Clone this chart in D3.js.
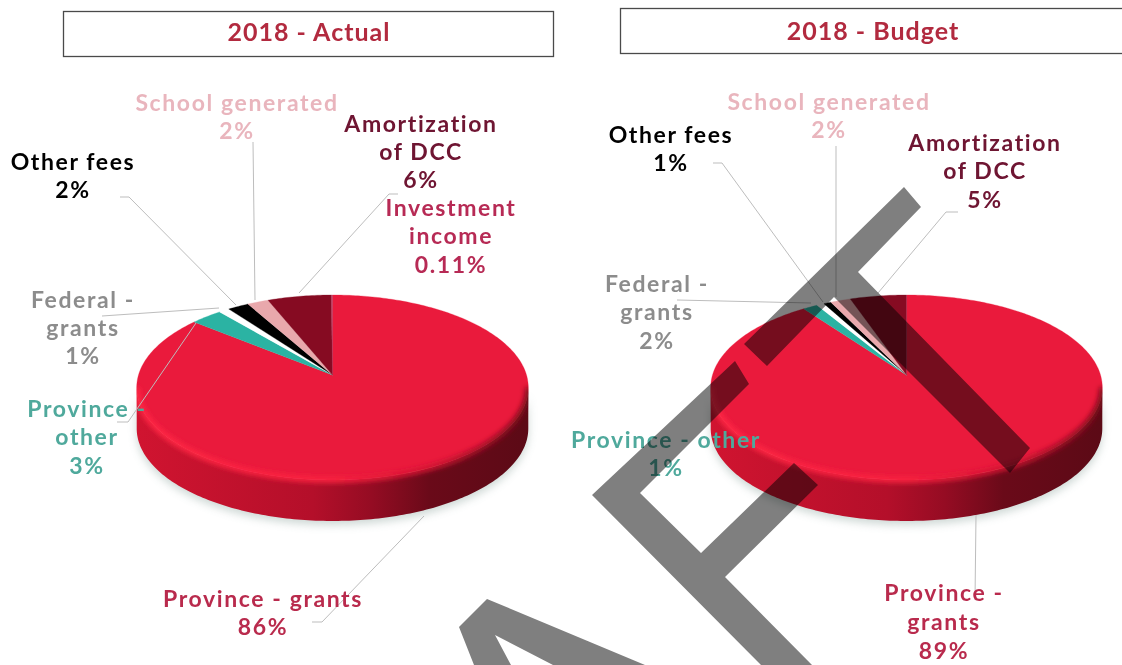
<!DOCTYPE html>
<html>
<head>
<meta charset="utf-8">
<script src="https://cdn.jsdelivr.net/npm/d3@7"></script>
<style>
  html, body { margin: 0; background: #fff; }
  svg { display: block; }
  text { font-family: Lato, sans-serif; font-weight: 700; font-size: 23px; letter-spacing: 1.6px; text-anchor: middle; }
  .title { font-size: 25px; letter-spacing: 1px; fill: #b22a3f; }
</style>
</head>
<body>
<svg id="chart" width="1122" height="665"></svg>
<script>
var categories = ["Province - grants", "Province - other", "Federal - grants", "Other fees", "School generated", "Amortization of DCC", "Investment income"];
var actualValues = [86, 3, 1, 2, 2, 6, 0.11];
var actualLabels = ["86%", "3%", "1%", "2%", "2%", "6%", "0.11%"];
// budget wedges, they are a little off the rounded labels
var budgetValues = [90, 1.4, 0.7, 0.7, 1.9, 5.3, 0];
var budgetLabels = ["89%", "1%", "2%", "1%", "2%", "5%", null];

var sliceColors = ["#ea1a3c", "#2bb3a3", "#ffffff", "#000000", "#e9a8ac", "#860b22", "#b72c55"];
var labelColors = ["#b92c4d", "#4fa99c", "#8c8c8c", "#000000", "#e9b5bd", "#6e1230", "#b72c55"];

// label text lines and leader lines, by category
var actualLayout = [
  { x: 263, y: [607, 635], lines: ["Province - grants"], leader: [[312, 622], [322, 622], [424, 516]] },
  { x: 87, y: [417, 445, 474], lines: ["Province -", "other"], leader: [[117, 422], [128, 422], [196, 323]] },
  { x: 83, y: [308, 336, 364], lines: ["Federal -", "grants"], leader: [[102, 316], [219, 308]] },
  { x: 73, y: [170, 198], lines: ["Other fees"], leader: [[120, 197], [129, 197], [236, 305]] },
  { x: 237, y: [111, 139], lines: ["School generated"], leader: [[253, 142], [255, 300]] },
  { x: 421, y: [132, 160, 188], lines: ["Amortization", "of DCC"], leader: [[398, 194], [389, 194], [299, 293]] },
  { x: 451, y: [216, 244, 273], lines: ["Investment", "income"], leader: null }
];
var budgetLayout = [
  { x: 944, y: [601, 630, 659], lines: ["Province -", "grants"], leader: [[976, 515], [975, 600]] },
  { x: 666, y: [448, 476], lines: ["Province - other"], leader: null },
  { x: 657, y: [292, 320, 349], lines: ["Federal -", "grants"], leader: [[677, 300], [811, 303]] },
  { x: 671, y: [143, 171], lines: ["Other fees"], leader: [[713, 163], [722, 163], [823, 302]] },
  { x: 829, y: [110, 138], lines: ["School generated"], leader: [[836, 146], [836, 297]] },
  { x: 985, y: [151, 179, 208], lines: ["Amortization", "of DCC"], leader: [[958, 212], [946, 212], [878, 293]] },
  null
];

// the grey stamp across the page
var stamp = [
  [[904, 187], [921, 207], [858, 272], [1030, 448], [1010, 473], [834, 297], [767, 366], [744, 344]],
  [[735, 361], [749, 384], [640, 493], [701, 553], [794, 463], [818, 485], [725, 577], [812, 665], [761, 665], [592, 495]],
  [[487, 599], [645, 665], [553, 665], [495, 635], [511, 665], [474, 665], [459, 627]]
];

var svg = d3.select("#chart");
var defs = svg.append("defs");

defs.append("filter").attr("id", "soft").append("feGaussianBlur").attr("stdDeviation", 0.45);
defs.append("filter").attr("id", "rimBlur")
  .attr("x", "-5%").attr("y", "-20%").attr("width", "110%").attr("height", "140%")
  .append("feGaussianBlur").attr("stdDeviation", 2.6);
defs.append("filter").attr("id", "shadowBlur")
  .attr("x", "-10%").attr("y", "-10%").attr("width", "120%").attr("height", "130%")
  .append("feGaussianBlur").attr("stdDeviation", 4);

var tilt = 0.135, radiusY = 90.8, radiusX = 194, depth = 41;
var sideStops = [[0, "#d01430"], [0.45, "#b40f2a"], [0.6, "#950c23"], [0.75, "#6a0a19"], [1, "#5c0a16"]];
var rimStops = [[0, "#ff2745"], [0.5, "#f9213f"], [0.75, "#d01532"], [1, "#7a0b1c"]];

function addGradient(id, x, stops) {
  var g = defs.append("linearGradient").attr("id", id)
    .attr("gradientUnits", "userSpaceOnUse")
    .attr("x1", x - radiusX).attr("x2", x + radiusX).attr("y1", 0).attr("y2", 0);
  stops.forEach(function(s) {
    g.append("stop").attr("offset", s[0]).attr("stop-color", s[1]);
  });
}

function drawPie(id, cx, cy, values, labels, layout) {
  var xScale = d3.scaleLinear().domain([-1, 1]).range([cx - radiusX, cx + radiusX]);
  var yScale = d3.scaleLinear().domain([-1, 1]).range([cy + radiusY, cy - radiusY]);
  var line = d3.line();

  // circle seen from a low angle, so the near half comes out larger
  var project = function(a) {
    var w = 1 + tilt * Math.cos(a);
    return [xScale(Math.sin(a) / w), yScale(Math.cos(a) / w)];
  };
  var arcPoints = function(a0, a1) {
    var n = Math.max(2, Math.ceil(Math.abs(a1 - a0) * 60));
    return d3.range(n + 1).map(function(i) { return project(a0 + (a1 - a0) * i / n); });
  };

  addGradient("side" + id, cx, sideStops);
  addGradient("rim" + id, cx, rimStops);

  var g = svg.append("g");
  var start = Math.acos(-tilt), end = 2 * Math.PI - start;
  var front = arcPoints(start, end);
  var wall = front.concat(front.slice().reverse().map(function(p) { return [p[0], p[1] + depth]; }));
  var face = arcPoints(0, 2 * Math.PI);

  var clip = defs.append("clipPath").attr("id", "body" + id);
  clip.append("path").attr("d", line(wall) + "Z");
  clip.append("path").attr("d", line(face) + "Z");

  g.append("path").attr("d", line(wall) + "Z")
    .attr("transform", "translate(0,4)")
    .attr("fill", "#93a8a2").attr("opacity", 0.45).attr("filter", "url(#shadowBlur)");
  g.append("path").attr("d", line(wall) + "Z").attr("fill", "url(#side" + id + ")");

  var slices = d3.pie().sort(null)(values);
  g.selectAll("path.slice").data(slices).enter().append("path")
    .attr("class", "slice")
    .attr("d", function(d) {
      return line(arcPoints(d.startAngle, d.endAngle).concat([[xScale(0), yScale(0)]])) + "Z";
    })
    .attr("fill", function(d, i) { return sliceColors[i]; })
    .attr("stroke", function(d, i) { return sliceColors[i]; })
    .attr("stroke-width", 0.3);

  // soft bevel along the near edge of the top face
  g.append("g").attr("clip-path", "url(#body" + id + ")")
    .append("path").attr("d", line(front))
    .attr("fill", "none").attr("stroke", "url(#rim" + id + ")").attr("stroke-width", 6)
    .attr("filter", "url(#rimBlur)");

  layout.forEach(function(l) {
    if (!l || !l.leader) return;
    g.append("path").attr("d", line(l.leader))
      .attr("fill", "none").attr("stroke", "#bdbdbd").attr("stroke-width", 1);
  });

  var texts = g.append("g").attr("filter", "url(#soft)");
  layout.forEach(function(l, i) {
    if (!l) return;
    l.lines.concat(labels[i]).forEach(function(t, j) {
      texts.append("text").attr("x", l.x).attr("y", l.y[j])
        .attr("fill", labelColors[i]).text(t);
    });
  });
}

// title boxes
svg.append("rect").attr("x", 63.5).attr("y", 11.5).attr("width", 490).attr("height", 45)
  .attr("fill", "#fff").attr("stroke", "#4a4a4a").attr("stroke-width", 1.3);
svg.append("rect").attr("x", 620.5).attr("y", 8.5).attr("width", 540).attr("height", 45)
  .attr("fill", "#fff").attr("stroke", "#4a4a4a").attr("stroke-width", 1.3);
svg.append("text").attr("class", "title").attr("x", 309).attr("y", 41).text("2018 - Actual");
svg.append("text").attr("class", "title").attr("x", 873).attr("y", 40).text("2018 - Budget");

drawPie("A", 332.5, 375, actualValues, actualLabels, actualLayout);
drawPie("B", 906.5, 375, budgetValues, budgetLabels, budgetLayout);

svg.append("g").style("mix-blend-mode", "multiply")
  .selectAll("path").data(stamp).enter().append("path")
  .attr("d", function(d) { return d3.line()(d) + "Z"; })
  .attr("fill", "#7f7f7f");
</script>
</body>
</html>
